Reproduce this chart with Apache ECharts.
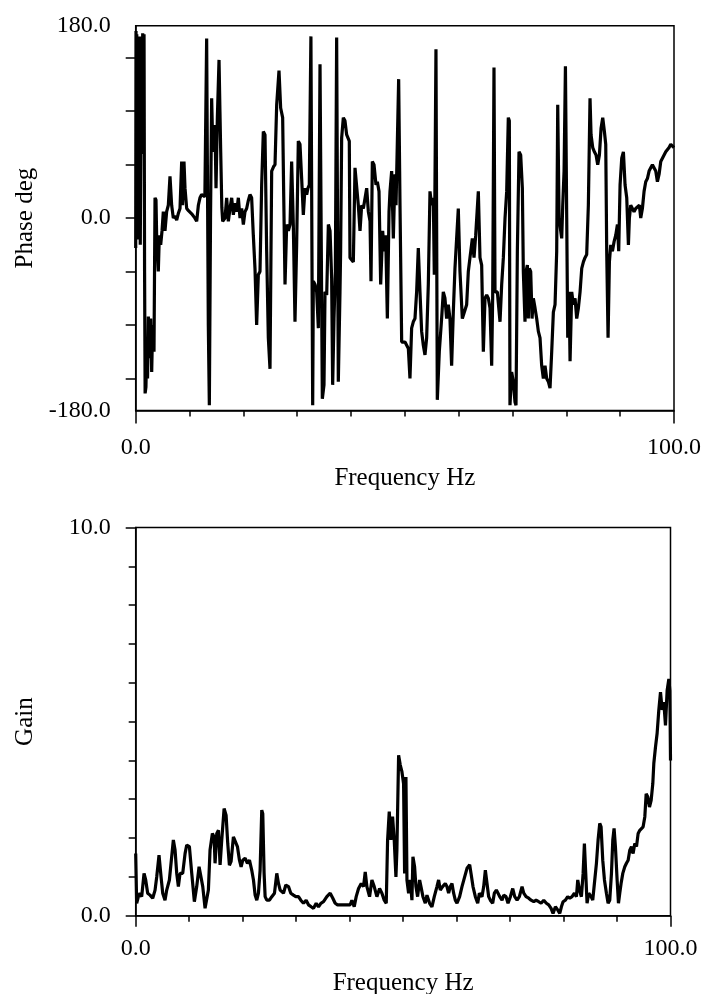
<!DOCTYPE html>
<html>
<head>
<meta charset="utf-8">
<title>Phase and gain versus frequency</title>
<script src="https://cdn.jsdelivr.net/npm/echarts@6/dist/echarts.min.js"></script>
<style>
  html, body { margin: 0; padding: 0; background: #fff; }
  #chart { width: 705px; height: 994px; }
</style>
</head>
<body>
<div id="chart"></div>
<script>
// Phase response (deg) sampled along frequency (Hz)
const phaseHz = [
  0.0, 0.06, 0.12, 0.2, 0.3, 0.45, 0.6, 0.7, 0.85, 1.0, 1.15, 1.3, 1.42, 1.55, 1.65, 1.75,
  1.9, 2.04, 2.2, 2.35, 2.53, 2.78, 2.97, 3.15, 3.28, 3.4, 3.59, 3.77, 3.89, 4.2, 4.39, 4.64,
  4.89, 5.13, 5.44, 5.75, 6.06, 6.37, 6.68, 6.99, 7.3, 7.61, 7.9, 8.23, 8.54, 8.7, 8.97, 9.16,
  9.47, 9.8, 10.09, 10.4, 10.71, 11.0, 11.33, 11.64, 11.94, 12.25, 12.56, 12.85, 13.06, 13.18,
  13.35, 13.49, 13.68, 13.9, 14.11, 14.3, 14.42, 14.6, 14.73, 14.92, 15.17, 15.48, 15.65, 15.79,
  16.0, 16.16, 16.59, 16.9, 17.21, 17.52, 17.83, 18.14, 18.45, 18.76, 19.07, 19.38, 19.69, 20.0,
  20.3, 20.61, 20.9, 21.23, 21.54, 21.85, 22.16, 22.47, 22.78, 23.09, 23.4, 23.71, 24.02, 24.33,
  24.64, 24.95, 25.26, 25.6, 25.88, 26.19, 26.62, 26.93, 27.3, 27.5, 27.74, 28.05, 28.36, 28.67,
  28.97, 29.28, 29.59, 29.9, 30.21, 30.52, 30.83, 31.14, 31.45, 31.76, 32.0, 32.25, 32.55, 32.88,
  33.0, 33.31, 33.62, 33.93, 34.24, 34.42, 34.67, 34.98, 35.17, 35.48, 35.79, 36.1, 36.4, 36.59,
  36.84, 37.09, 37.33, 37.64, 37.95, 38.07, 38.26, 38.57, 38.88, 39.19, 39.68, 39.81, 40.43, 40.74,
  41.05, 41.36, 41.67, 41.98, 42.29, 42.91, 43.22, 43.53, 43.71, 43.96, 44.27, 44.64, 44.89, 45.2,
  45.51, 45.88, 46.13, 46.44, 46.75, 47.06, 47.24, 47.55, 47.86, 48.17, 48.36, 48.67, 48.85, 49.1,
  49.41, 50.03, 50.65, 50.95, 51.26, 51.57, 51.88, 52.19, 52.5, 52.81, 53.12, 53.43, 53.74, 54.05,
  54.36, 54.67, 54.98, 55.29, 55.47, 55.78, 56.03, 56.4, 56.83, 57.14, 57.45, 57.76, 58.07, 58.38,
  58.69, 59.0, 59.31, 59.62, 59.93, 60.24, 60.68, 61.05, 61.48, 61.79, 62.1, 62.54, 62.85, 63.16,
  63.65, 63.96, 64.27, 64.58, 64.89, 65.2, 65.51, 65.82, 66.13, 66.32, 66.56, 66.75, 67.18, 67.68,
  67.99, 68.3, 68.61, 68.92, 69.22, 69.41, 69.53, 69.84, 70.15, 70.46, 70.65, 70.9, 71.21, 71.52,
  71.83, 72.01, 72.32, 72.51, 72.76, 72.94, 73.13, 73.38, 73.63, 73.87, 74.18, 74.49, 74.8, 75.11,
  75.42, 75.73, 76.04, 76.35, 76.66, 76.97, 77.28, 77.59, 77.9, 78.21, 78.4, 78.65, 78.96, 79.14,
  79.33, 79.58, 79.83, 80.07, 80.26, 80.51, 80.69, 81.0, 81.31, 81.62, 81.93, 82.24, 82.55, 82.86,
  83.17, 83.47, 83.78, 84.09, 84.4, 84.59, 84.9, 85.21, 85.52, 85.83, 86.14, 86.45, 86.76, 87.07,
  87.32, 87.5, 87.75, 88.0, 88.25, 88.56, 88.87, 89.18, 89.49, 89.73, 89.98, 90.29, 90.6, 90.91,
  91.22, 91.53, 91.71, 91.96, 92.27, 92.58, 92.89, 93.26, 93.57, 93.82, 94.13, 94.44, 94.75, 95.06,
  95.37, 95.68, 95.99, 96.3, 96.61, 96.92, 97.23, 97.54, 97.85, 98.16, 98.47, 98.78, 99.09, 99.4,
  99.71, 100.0
];
const phaseDeg = [
  -28, 175, 60, 172, -20, 150, 30, 170, -25, 120, 60, 173, 100, 172, -50, -164,
  -158, -122, -150, -92, -131, -94, -144, -100, -100, -125, 19, 17, -16, -50, -16, -25,
  -12, 6, -12, 6, 12, 39, 12, 0, 2, -2, 4, 9, 53, 12, 53, 28,
  9, 7, 6, 4, 3, 0, -3, 12, 19, 22, 23, 20, 19, 168,
  20, -100, -175, 0, 112, 70, 62, 80, 87, 28, 94, 148, 100, 62,
  10, -3, 0, 19, -3, 9, 19, 3, 14, 6, 19, 0, 9, -6,
  6, 9, 16, 22, 19, -16, -47, -100, -53, -50, 31, 81, 78, -31,
  -112, -141, 44, 48, 50, 106, 138, 103, 94, 20, -62, -6, -12, -6,
  53, -6, -97, -25, 72, 69, 37, 3, 28, 22, 28, 31, 170, -175,
  -59, -62, -69, -103, 144, 144, -169, -156, -69, -72, -6, -12, -56, -156,
  -94, -50, 169, -153, -69, -31, 75, 94, 91, 78, 72, -37, -41, 47,
  48, 12, -12, 12, 9, 28, 6, -3, -59, 53, 50, 31, 34, 25,
  -62, -12, -31, -16, -94, 6, 25, 44, -19, 41, 12, 12, 130, 12,
  -116, -116, -122, -150, -103, -97, -94, -69, -28, -69, -106, -119, -128, -112,
  -62, 25, 12, 19, -53, 158, -170, -125, -94, -69, -75, -94, -81, -94,
  -138, -88, -47, -47, 9, -50, -94, -94, -81, -50, -37, -19, -37, -16,
  25, -37, -44, -125, -75, -72, -75, -84, -138, -72, 141, -69, -69, -97,
  -62, -37, 0, 25, 94, 91, -175, -144, -153, -172, -175, -31, 62, 59,
  28, -50, -97, -50, -44, -94, -47, -50, -94, -75, -84, -94, -106, -112,
  -138, -150, -138, -150, -153, -159, -125, -88, -81, -31, 106, 0, -12, -19,
  12, 44, 142, 0, -112, -69, -134, -69, -81, -75, -94, -84, -69, -47,
  -41, -37, -34, 12, 112, 78, 66, 62, 59, 50, 59, 84, 94, 81,
  69, -31, -112, -41, -25, -31, -22, -16, -6, -31, 31, 56, 62, 31,
  19, -25, 0, 12, 12, 6, 9, 9, 12, 0, 9, 25, 34, 37,
  44, 47, 50, 50, 44, 34, 41, 53, 56, 59, 62, 62, 66, 69,
  70, 66
];

// Gain sampled along frequency (Hz)
const gainHz = [
  0.0, 0.18, 0.5, 0.8, 1.12, 1.56, 1.87, 2.24, 2.68, 3.18, 3.62, 3.93, 4.36, 4.74, 5.05, 5.48,
  5.8, 6.3, 6.73, 7.04, 7.36, 7.67, 7.98, 8.29, 8.79, 9.23, 9.54, 10.04, 10.48, 10.97, 11.41, 11.85,
  12.22, 12.54, 12.97, 13.28, 13.59, 13.9, 14.34, 14.66, 14.84, 15.16, 15.47, 15.78, 16.09, 16.53,
  16.9, 17.21, 17.52, 17.84, 18.27, 18.59, 19.02, 19.4, 19.71, 20.02, 20.46, 20.89, 21.27, 21.7,
  22.02, 22.33, 22.64, 22.95, 23.26, 23.57, 23.76, 24.01, 24.2, 24.51, 25.01, 25.45, 25.95, 26.38,
  26.7, 27.01, 27.63, 28.07, 28.57, 29.0, 29.5, 29.94, 30.44, 30.87, 31.37, 31.87, 32.31, 32.81,
  33.25, 33.75, 34.18, 34.62, 35.12, 35.74, 36.37, 36.86, 37.3, 37.74, 38.24, 38.86, 39.49, 40.11,
  40.42, 40.86, 41.23, 41.67, 42.17, 42.6, 42.92, 43.23, 43.73, 44.17, 44.6, 45.1, 45.6, 46.04,
  46.47, 46.85, 47.1, 47.41, 47.72, 48.03, 48.34, 48.66, 48.84, 49.16, 49.47, 49.78, 50.09, 50.28,
  50.53, 50.72, 51.03, 51.34, 51.65, 51.84, 52.15, 52.4, 52.71, 53.09, 53.34, 53.71, 54.15, 54.46,
  54.96, 55.39, 55.83, 56.33, 56.64, 56.95, 57.39, 57.89, 58.2, 58.51, 58.83, 59.14, 59.45, 59.76,
  60.08, 60.57, 61.01, 61.51, 61.95, 62.45, 62.7, 63.07, 63.51, 63.95, 64.26, 64.75, 65.07, 65.38,
  65.69, 66.0, 66.31, 66.75, 67.06, 67.44, 67.75, 68.06, 68.5, 68.81, 69.25, 69.62, 70.06, 70.5,
  70.87, 71.31, 71.74, 72.24, 72.56, 72.99, 73.49, 73.93, 74.43, 74.86, 75.36, 75.8, 76.3, 76.79,
  77.23, 77.67, 78.04, 78.48, 78.91, 79.29, 79.6, 79.91, 80.35, 80.78, 81.16, 81.59, 82.03, 82.41,
  82.66, 82.97, 83.34, 83.66, 83.9, 84.15, 84.4, 84.71, 85.15, 85.46, 85.77, 86.15, 86.46, 86.77,
  87.02, 87.33, 87.65, 88.02, 88.33, 88.64, 88.96, 89.21, 89.45, 89.7, 90.02, 90.27, 90.51, 90.76,
  91.08, 91.45, 91.76, 92.08, 92.39, 92.7, 93.01, 93.32, 93.64, 93.95, 94.26, 94.57, 94.88, 95.2,
  95.45, 95.76, 96.07, 96.38, 96.69, 96.88, 97.19, 97.5, 97.81, 98.13, 98.44, 98.75, 99.06, 99.37,
  99.69, 99.88, 100.0
];
const gainVal = [
  1.6, 0.32, 0.49, 0.58, 0.49, 1.09, 0.92, 0.58, 0.53, 0.45, 0.66, 1.0, 1.56, 1.0, 0.58, 0.4,
  0.66, 0.92, 1.52, 1.95, 1.69, 1.09, 0.75, 1.09, 1.09, 1.6, 1.82, 1.78, 1.09, 0.36, 0.75, 1.26,
  1.31, 0.75, 0.19, 0.23, 0.66, 1.69, 2.12, 2.03, 1.35, 2.12, 2.2, 1.31, 1.95, 2.76,
  2.59, 1.86, 1.3, 1.4, 2.03, 2.07, 1.78, 1.43, 1.26, 1.43, 1.48, 1.35, 1.43, 1.17,
  0.92, 0.53, 0.4, 0.58, 1.17, 2.72, 2.63, 1.09, 0.49, 0.4, 0.4, 0.49, 0.58, 1.09,
  0.83, 0.66, 0.58, 0.79, 0.75, 0.58, 0.53, 0.49, 0.49, 0.4, 0.32, 0.4, 0.28, 0.23,
  0.19, 0.32, 0.23, 0.32, 0.36, 0.49, 0.58, 0.45, 0.32, 0.28, 0.28, 0.28, 0.28, 0.28,
  0.4, 0.23, 0.49, 0.7, 0.83, 0.75, 1.13, 0.75, 0.49, 0.92, 0.75, 0.49, 0.7, 0.58,
  0.4, 0.32, 1.95, 2.68, 1.95, 2.55, 1.95, 1.0, 1.69, 4.13, 3.88, 3.71, 3.4, 1.09,
  3.57, 0.92, 0.58, 0.92, 0.4, 1.52, 1.26, 0.75, 0.49, 0.92, 0.75, 0.49, 0.32, 0.53,
  0.32, 0.23, 0.49, 0.75, 0.92, 0.66, 0.75, 0.83, 0.75, 0.58, 0.75, 0.83, 0.58, 0.4,
  0.32, 0.49, 0.75, 1.0, 1.22, 1.31, 1.09, 0.75, 0.49, 0.32, 0.58, 0.49, 0.75, 1.17,
  0.83, 0.49, 0.4, 0.32, 0.58, 0.66, 0.58, 0.49, 0.4, 0.53, 0.49, 0.32, 0.49, 0.7,
  0.49, 0.4, 0.49, 0.75, 0.58, 0.49, 0.45, 0.4, 0.36, 0.4, 0.36, 0.32, 0.4, 0.32,
  0.28, 0.19, 0.06, 0.23, 0.15, 0.06, 0.23, 0.36, 0.4, 0.49, 0.45, 0.49, 0.58, 0.49,
  0.92, 0.66, 0.49, 1.09, 1.86, 1.09, 0.32, 0.58, 0.49, 0.4, 0.83, 1.35, 1.95, 2.38,
  2.29, 1.43, 0.92, 0.58, 0.32, 0.4, 1.09, 1.95, 2.25, 1.78, 0.92, 0.32, 0.58, 0.83,
  1.09, 1.26, 1.35, 1.43, 1.69, 1.78, 1.6, 1.86, 1.78, 2.12, 2.2, 2.25, 2.29, 2.55,
  3.14, 3.06, 2.8, 2.97, 3.4, 3.92, 4.34, 4.7, 5.29, 5.76, 5.3, 5.5, 4.9, 5.8,
  6.1, 5.8, 4.0
];

// Tick positions and labelled values
const freqMinorTicks = [10, 20, 30, 40, 50, 60, 70, 80, 90];
const freqLabels = [0, 100];
const phaseMinorTicks = [-150, -100, -50, 0, 50, 100, 150];
const phaseLabels = [-180, 0, 180];
const gainMinorTicks = [1, 2, 3, 4, 5, 6, 7, 8, 9];
const gainLabels = [0, 10];

const zip = (xs, ys) => xs.map((x, i) => [x, ys[i]]);

const SERIF = '"Liberation Serif", "DejaVu Serif", "Times New Roman", serif';
const INK = '#000';
const fmt = v => Number(v).toFixed(1);
const lineStyle = { color: INK, width: 1.5 };
const labelStyle = { color: INK, fontFamily: SERIF, fontSize: 24 };
const nameStyle = { color: INK, fontFamily: SERIF, fontSize: 25 };

function xAxes(grid, nameGap, labelMargin, endTickLen) {
  return [
    {
      gridIndex: grid, type: 'value', min: 0, max: 100, position: 'bottom',
      axisLine: { show: true, onZero: false, lineStyle },
      axisTick: { show: true, inside: false, length: 6, customValues: freqMinorTicks, lineStyle },
      axisLabel: { show: true, customValues: freqLabels, formatter: fmt, margin: labelMargin, ...labelStyle },
      splitLine: { show: false },
      name: 'Frequency Hz', nameLocation: 'middle', nameGap, nameTextStyle: nameStyle
    },
    {
      gridIndex: grid, type: 'value', min: 0, max: 100, position: 'bottom',
      axisLine: { show: false, onZero: false },
      axisTick: { show: true, inside: false, length: endTickLen, customValues: freqLabels, lineStyle },
      axisLabel: { show: false },
      splitLine: { show: false }
    }
  ];
}

const option = {
  animation: false,
  backgroundColor: '#fff',
  textStyle: { fontFamily: SERIF },
  grid: [
    { left: 135.7, top: 25.7, width: 538.3, height: 384.8, show: true,
      borderColor: INK, borderWidth: 1.5, backgroundColor: 'transparent', outerBoundsMode: 'none' },
    { left: 135.7, top: 527.5, width: 534.8, height: 388.2, show: true,
      borderColor: INK, borderWidth: 1.5, backgroundColor: 'transparent', outerBoundsMode: 'none' }
  ],
  xAxis: [
    ...xAxes(0, 55, 25, 13),
    ...xAxes(1, 55, 21, 11)
  ],
  yAxis: [
    {
      gridIndex: 0, type: 'value', min: -180, max: 180, position: 'left',
      axisLine: { show: true, onZero: false, lineStyle },
      axisTick: { show: true, inside: false, length: 10, customValues: phaseMinorTicks, lineStyle },
      axisLabel: { show: true, customValues: phaseLabels, formatter: fmt, margin: 25, ...labelStyle },
      splitLine: { show: false },
      name: 'Phase deg', nameLocation: 'middle', nameGap: 98, nameTextStyle: nameStyle
    },
    {
      gridIndex: 1, type: 'value', min: 0, max: 10, position: 'left',
      axisLine: { show: true, onZero: false, lineStyle },
      axisTick: { show: true, inside: false, length: 7, customValues: gainMinorTicks, lineStyle },
      axisLabel: { show: true, customValues: gainLabels, formatter: fmt, margin: 25, ...labelStyle },
      splitLine: { show: false },
      name: 'Gain', nameLocation: 'middle', nameGap: 98, nameTextStyle: nameStyle
    },
    {
      gridIndex: 1, type: 'value', min: 0, max: 10, position: 'left',
      axisLine: { show: false, onZero: false },
      axisTick: { show: true, inside: false, length: 10, customValues: gainLabels, lineStyle },
      axisLabel: { show: false },
      splitLine: { show: false }
    }
  ],
  series: [
    {
      type: 'line', xAxisIndex: 0, yAxisIndex: 0, data: zip(phaseHz, phaseDeg),
      showSymbol: false, clip: true, lineStyle: { color: INK, width: 3.2 }, silent: true
    },
    {
      type: 'line', xAxisIndex: 2, yAxisIndex: 1, data: zip(gainHz, gainVal),
      showSymbol: false, clip: true, lineStyle: { color: INK, width: 3.2 }, silent: true
    }
  ]
};

const chart = echarts.init(document.getElementById('chart'), null, { renderer: 'canvas' });
chart.setOption(option);
</script>
</body>
</html>
